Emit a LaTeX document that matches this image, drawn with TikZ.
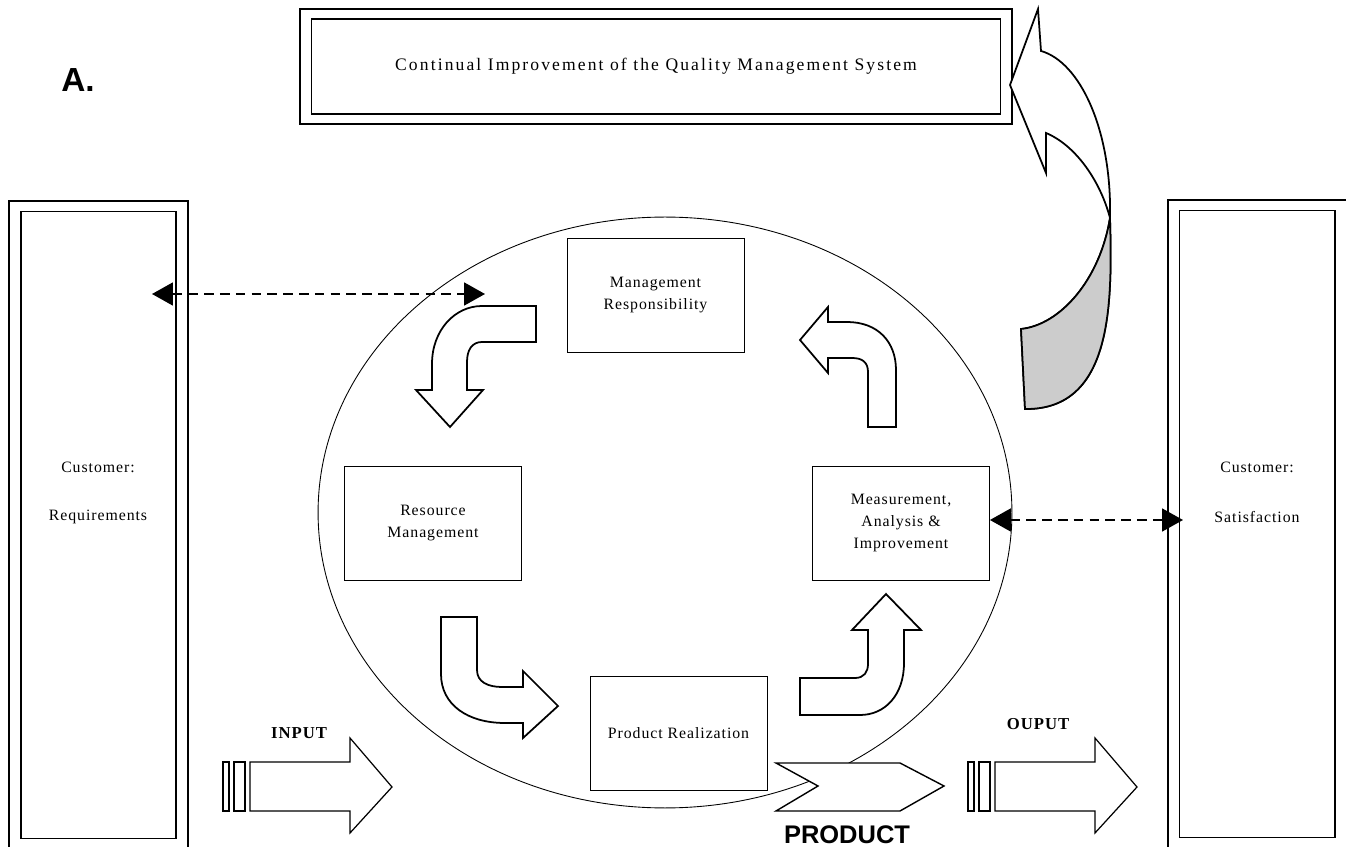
\documentclass[tikz,border=0pt]{standalone}
\usepackage{fontspec}
\setmainfont{Liberation Serif}
\newfontfamily\boxfont{Liberation Serif}[LetterSpace=6]
\newfontfamily\wideboxfont{Liberation Serif}[LetterSpace=12]
\newfontfamily\headfont{Liberation Sans}
\usepackage{tikz}
\usetikzlibrary{shapes.geometric}
\usetikzlibrary{arrows.meta}

\begin{document}
\begin{tikzpicture}[x=0.02cm,y=-0.02cm,line join=miter]
	\tikzstyle{frame}=[draw,line width=0.7pt,minimum width=3.1cm,minimum height=12.56cm,inner sep=0pt]
	\tikzstyle{process}=[draw,line width=0.5pt,fill=white,minimum width=3.54cm,minimum height=2.28cm,align=center,font=\boxfont\fontsize{9}{12.5}\selectfont]
	\tikzstyle{annot}=[inner sep=0pt,font=\boxfont\fontsize{9}{11}\selectfont]
	\tikzstyle{block arrow}=[draw,line width=1pt,fill=white]
	\tikzstyle{feedback}=[densely dashed,dash pattern=on 5.5pt off 3.5pt,line width=1.1pt,{Triangle[length=0.42cm,width=0.46cm]}-{Triangle[length=0.42cm,width=0.46cm]}]
	
	\useasboundingbox (0,0) rectangle (1346,847);
	
	% Draw the title
	\node[inner sep=0pt,font=\headfont\bfseries\fontsize{19}{22}\selectfont] (title) at (78,80) {A.};
	
	% Draw the improvement box on top
	\node[frame,minimum width=14.24cm,minimum height=2.3cm] (top-out) at (656,66.5) {};
	\node[frame,line width=0.6pt,minimum width=13.8cm,minimum height=1.9cm,font=\wideboxfont\fontsize{10}{12}\selectfont] (top-in) at (656,66.5) {Continual Improvement of the Quality Management System};
	
	% Draw the customer boxes
	\node[frame,minimum width=3.58cm,minimum height=13.08cm] (req-out) at (98.5,528) {};
	\node[frame,line width=0.6pt] (req) at (98.5,525) {};
	\node[frame,minimum width=3.84cm,minimum height=13.2cm] (sat-out) at (1264,530) {};
	\node[frame,line width=0.6pt,minimum width=3.12cm] (sat) at (1257,524) {};
	\node[annot] at (98,467) {Customer:};
	\node[annot] at (98,517) {Requirements};
	\node[annot] at (1257,467) {Customer:};
	\node[annot] at (1257,517) {Satisfaction};
	
	% Draw the process loop
	\node[draw,ellipse,line width=0.5pt,inner sep=0pt,minimum width=13.88cm,minimum height=11.82cm] (loop) at (665,512.5) {};
	\node[process] (mgmt) at (655.5,295) {Management\\Responsibility};
	\node[process] (res) at (433,523) {Resource\\Management};
	\node[process] (meas) at (901,523) {Measurement,\\Analysis \&\\Improvement};
	\node[process] (prod) at (678.5,733) {Product Realization};
	
	% Connect the loop with curved arrows
	\draw[block arrow] (536,306) -- (482,306) .. controls (455,306) and (432,330) .. (432,364) -- (432,390) -- (416,390) -- (450,427) -- (483,390) -- (467,390) -- (467,362) .. controls (467,350) and (472,342) .. (482,342) -- (536,342) -- cycle;
	\draw[block arrow] (441,617) -- (477,617) -- (477,670) .. controls (477,682) and (488,687) .. (502,687) -- (523,687) -- (523,671) -- (558,706) -- (523,738) -- (523,723) -- (505,723) .. controls (468,723) and (441,705) .. (441,674) -- cycle;
	\draw[block arrow] (800,678) -- (855,678) .. controls (864,678) and (868,672) .. (868,664) -- (868,630) -- (852,630) -- (886,594) -- (921,630) -- (904,630) -- (904,663) .. controls (904,695) and (885,715) .. (860,715) -- (800,715) -- cycle;
	\draw[block arrow] (896,427) -- (868,427) -- (868,372) .. controls (868,362) and (862,358) .. (852,358) -- (828,358) -- (828,373) -- (800,340) -- (828,307) -- (828,322) -- (847,322) .. controls (878,322) and (896,342) .. (896,370) -- cycle;
	
	% Draw the improvement arrow
	\draw[block arrow] (1010,85) -- (1038,9) -- (1041,51) .. controls (1080,62) and (1112,130) .. (1110,218) .. controls (1112,300) and (1114,410) .. (1025,409) -- (1021,329) .. controls (1060,325) and (1100,280) .. (1110,218) .. controls (1100,180) and (1075,145) .. (1046,133) -- (1046,173) -- cycle;
	\fill[black!20] (1110,218) .. controls (1112,300) and (1114,410) .. (1025,409) -- (1021,329) .. controls (1060,325) and (1100,280) .. (1110,218) -- cycle;
	\draw[line width=1pt] (1110,218) .. controls (1112,300) and (1114,410) .. (1025,409) -- (1021,329) .. controls (1060,325) and (1100,280) .. (1110,218);
	
	% Connect the customers with the loop
	\coordinate (req-end) at (152,294);
	\coordinate (loop-end) at (485,294);
	\coordinate (sat-end) at (1183,520);
	\draw[feedback] (req-end) -- (loop-end);
	\draw[feedback] (meas.east |- sat-end) -- (sat-end);
	
	% Draw input and output arrows
	\foreach \dx in {0,745}
	{
		\begin{scope}[shift={(\dx,0)}]
			\draw[line width=0.7pt] (223,762) rectangle (229,811);
			\draw[line width=0.7pt] (234,762) rectangle (245,811);
			\draw[block arrow,line width=0.7pt] (250,762) -- (350,762) -- (350,738) -- (392,787) -- (350,833) -- (350,811) -- (250,811) -- cycle;
		\end{scope}
	}
	\node[annot,font=\boxfont\bfseries\fontsize{9.5}{11}\selectfont] (in) at (299,733) {INPUT};
	\node[annot,font=\boxfont\bfseries\fontsize{9.5}{11}\selectfont] (out) at (1038,724) {OUPUT};
	
	% Draw the product arrow
	\draw[block arrow,line width=0.8pt] (776,763) -- (818,786) -- (776,811) -- (900,811) -- (944,786) -- (900,763) -- cycle;
	\node[inner sep=0pt,font=\headfont\bfseries\fontsize{14.5}{17}\selectfont] (product) at (847,835) {PRODUCT};
	
\end{tikzpicture}
\end{document}
